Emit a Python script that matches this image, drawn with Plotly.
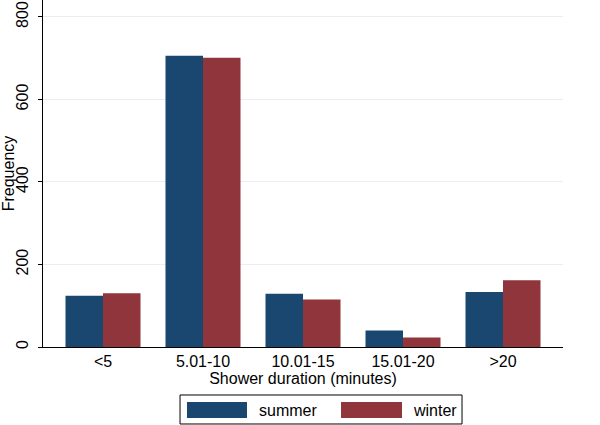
import plotly.graph_objects as go

categories = ["<5", "5.01-10", "10.01-15", "15.01-20", ">20"]
summer = [124, 706, 129, 40, 133]
winter = [130, 701, 115, 23, 162]
series_names = ["summer", "winter"]
y_ticks = [0, 200, 400, 600, 800]

NAVY = "#1a476f"
MAROON = "#90353b"
FONT = "Liberation Sans, Arial, sans-serif"
FS = 16

fig = go.Figure()
fig.add_trace(go.Bar(x=categories, y=summer, name=series_names[0], marker_color=NAVY,
                     marker_line_width=0, showlegend=False))
fig.add_trace(go.Bar(x=categories, y=winter, name=series_names[1], marker_color=MAROON,
                     marker_line_width=0, showlegend=False))

# manual Stata-like legend
shapes = [
    dict(type="rect", xref="paper", yref="paper", x0=0.2635, x1=0.8058, y0=-0.2219, y1=-0.1383,
         line=dict(color="black", width=1), fillcolor="white"),
    dict(type="rect", xref="paper", yref="paper", x0=0.2769, x1=0.3923, y0=-0.2046, y1=-0.1585,
         line=dict(width=0), fillcolor=NAVY),
    dict(type="rect", xref="paper", yref="paper", x0=0.5731, x1=0.6904, y0=-0.2046, y1=-0.1585,
         line=dict(width=0), fillcolor=MAROON),
]
annotations = [
    dict(xref="paper", yref="paper", x=0.4115, y=-0.1816, text=series_names[0], showarrow=False,
         xanchor="left", yanchor="middle", font=dict(size=FS, color="black", family=FONT)),
    dict(xref="paper", yref="paper", x=0.7077, y=-0.1816, text=series_names[1], showarrow=False,
         xanchor="left", yanchor="middle", font=dict(size=FS, color="black", family=FONT)),
]

fig.update_layout(
    width=600, height=425,
    margin=dict(l=43, r=37, t=0, b=78),
    paper_bgcolor="white", plot_bgcolor="white",
    barmode="group", bargap=0.25, bargroupgap=0,
    font=dict(family=FONT, size=FS, color="black"),
    shapes=shapes, annotations=annotations,
    xaxis=dict(
        showline=True, linecolor="black", linewidth=1,
        ticks="", showgrid=False, range=[-0.6, 4.6],
        title=dict(text="Shower duration (minutes)", standoff=3, font=dict(size=FS)),
        tickfont=dict(size=FS),
    ),
    yaxis=dict(
        range=[0, 841], tickvals=y_ticks, ticktext=[str(v) for v in y_ticks],
        showline=True, linecolor="black", linewidth=1,
        ticks="outside", ticklen=4, tickcolor="black",
        showgrid=True, gridcolor="#e9eef0", gridwidth=1,
        tickangle=-90, tickfont=dict(size=FS), ticklabelstandoff=4,
        title=dict(text="Frequency", standoff=2, font=dict(size=FS)),
        zeroline=False,
    ),
)

fig.write_html("out.html", config={"displayModeBar": False},
               post_script="document.body.style.margin='0';document.body.style.overflow='hidden';")
